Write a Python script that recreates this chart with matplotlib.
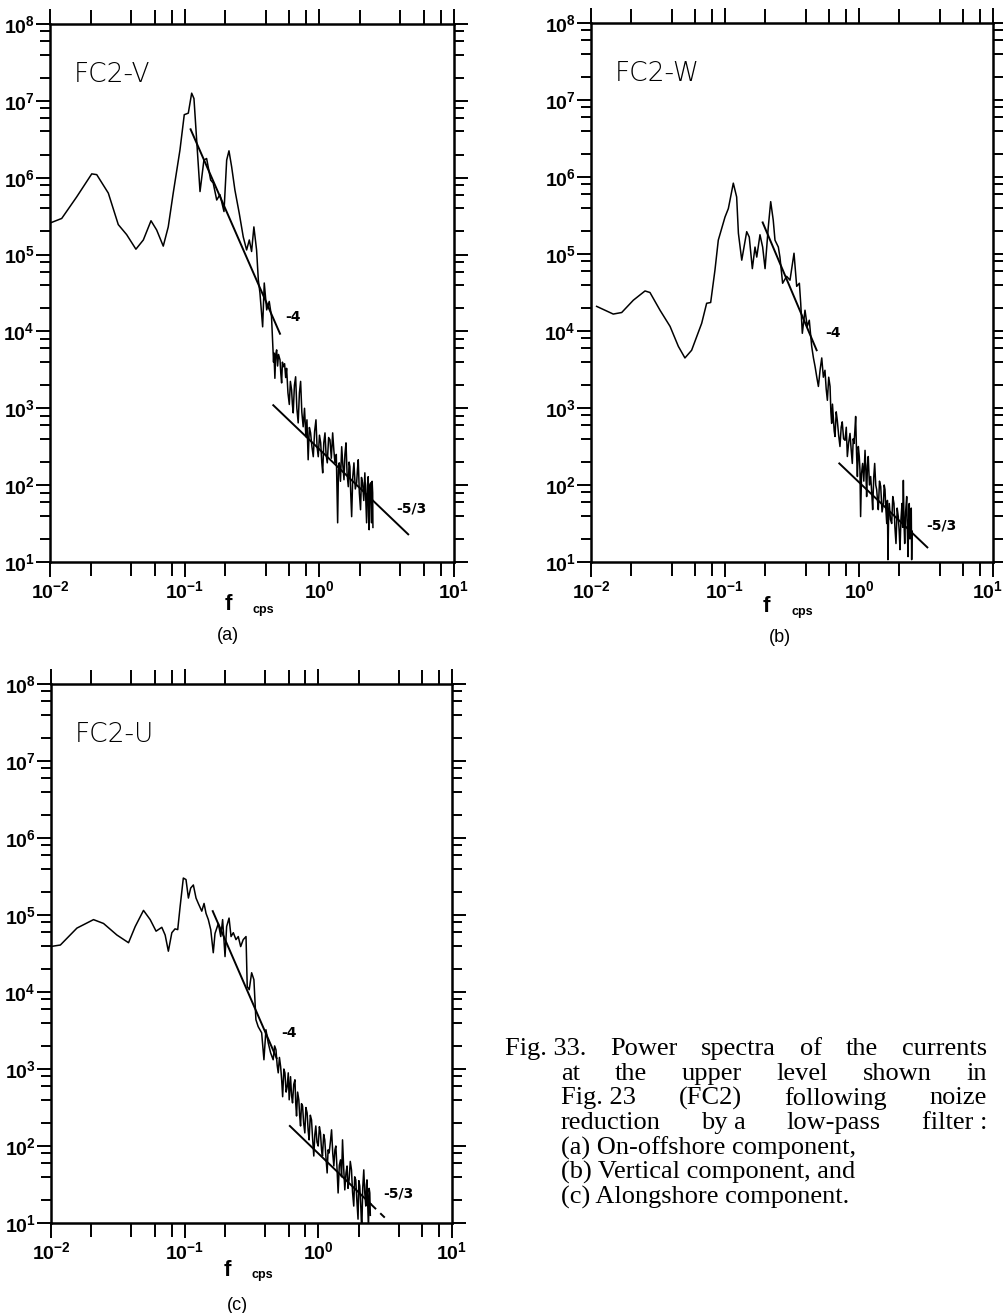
import numpy as np
import matplotlib
matplotlib.use("Agg")
import matplotlib.pyplot as plt
from matplotlib.ticker import LogLocator, FuncFormatter, NullFormatter

plt.rcParams['mathtext.fontset'] = 'custom'
plt.rcParams['mathtext.bf'] = 'Liberation Sans:bold'
plt.rcParams['mathtext.rm'] = 'Liberation Sans'
plt.rcParams['mathtext.it'] = 'Liberation Sans:italic'

# spectra: (log10 f [cps], log10 power)
spec_a = [(-2.0, 5.41), (-1.913, 5.47), (-1.802, 5.75), (-1.69, 6.05), (-1.653, 6.04),
          (-1.567, 5.80), (-1.493, 5.39), (-1.431, 5.26), (-1.362, 5.07), (-1.307, 5.19),
          (-1.25, 5.44), (-1.208, 5.32), (-1.159, 5.11), (-1.122, 5.36), (-1.085, 5.80),
          (-1.035, 6.36), (-1.003, 6.82), (-0.973, 6.84), (-0.948, 7.10), (-0.931, 7.03),
          (-0.911, 6.49), (-0.886, 5.82), (-0.857, 6.23), (-0.837, 6.25), (-0.807, 5.97),
          (-0.788, 5.93), (-0.762, 5.71), (-0.738, 5.78), (-0.708, 5.56), (-0.688, 6.23),
          (-0.671, 6.35), (-0.651, 6.14), (-0.627, 5.84), (-0.595, 5.54), (-0.565, 5.23),
          (-0.54, 5.06), (-0.52, 5.19), (-0.503, 5.04), (-0.486, 5.36), (-0.466, 5.06),
          (-0.453, 4.67), (-0.441, 4.50), (-0.421, 4.06), (-0.409, 4.63), (-0.391, 4.28),
          (-0.372, 4.39), (-0.355, 4.19), (-0.347, 3.89), (-0.340, 3.60), (-0.337, 3.72),
          (-0.330, 3.39), (-0.324, 3.70), (-0.317, 3.76), (-0.310, 3.55), (-0.303, 3.70),
          (-0.292, 3.63), (-0.286, 3.45), (-0.280, 3.33), (-0.274, 3.60), (-0.268, 3.54),
          (-0.258, 3.58), (-0.250, 3.40), (-0.243, 3.52), (-0.233, 3.20), (-0.223, 3.05),
          (-0.215, 3.35), (-0.206, 3.24), (-0.200, 3.05), (-0.194, 2.94), (-0.185, 3.30),
          (-0.176, 3.41), (-0.167, 3.00), (-0.157, 2.81), (-0.148, 3.20), (-0.139, 3.35),
          (-0.130, 2.95), (-0.120, 2.76), (-0.110, 3.00), (-0.100, 2.63), (-0.092, 2.85),
          (-0.083, 2.33), (-0.074, 2.75), (-0.065, 2.68), (-0.055, 2.50), (-0.045, 2.37),
          (-0.035, 2.70), (-0.025, 2.85), (-0.017, 2.50), (-0.008, 2.37), (0.001, 2.65),
          (0.010, 2.55), (0.018, 2.30), (0.025, 2.16), (0.033, 2.55), (0.042, 2.68),
          (0.050, 2.40), (0.059, 2.29), (0.069, 2.62), (0.079, 2.59), (0.089, 2.35),
          (0.099, 2.68), (0.108, 2.45), (0.116, 2.29), (0.126, 2.40), (0.136, 1.51),
          (0.142, 2.20), (0.148, 2.29), (0.157, 2.05), (0.166, 2.50), (0.175, 2.25),
          (0.183, 2.07), (0.190, 2.40), (0.198, 2.55), (0.206, 2.15), (0.215, 1.98),
          (0.221, 2.30), (0.227, 2.24), (0.233, 1.90), (0.240, 1.59), (0.248, 2.10),
          (0.257, 2.29), (0.267, 1.95), (0.277, 2.03), (0.283, 2.20), (0.289, 2.33),
          (0.297, 1.90), (0.306, 1.68), (0.313, 2.10), (0.321, 2.03), (0.330, 1.80),
          (0.338, 2.16), (0.344, 1.85), (0.351, 1.51), (0.357, 2.00), (0.363, 2.11),
          (0.366, 1.60), (0.370, 1.42), (0.375, 2.00), (0.381, 2.03), (0.385, 1.70),
          (0.388, 1.51), (0.392, 2.05), (0.396, 1.90), (0.398, 1.45)]

spec_b = [(-1.958, 4.32), (-1.834, 4.22), (-1.771, 4.24), (-1.684, 4.40), (-1.597, 4.52),
          (-1.56, 4.50), (-1.485, 4.27), (-1.41, 4.06), (-1.348, 3.80), (-1.299, 3.65),
          (-1.249, 3.75), (-1.174, 4.10), (-1.137, 4.36), (-1.107, 4.37), (-1.075, 4.79),
          (-1.05, 5.18), (-1.0, 5.48), (-0.975, 5.59), (-0.938, 5.92), (-0.913, 5.74),
          (-0.90, 5.27), (-0.875, 4.92), (-0.838, 5.29), (-0.819, 5.22), (-0.796, 4.81),
          (-0.776, 5.09), (-0.763, 4.96), (-0.739, 5.25), (-0.719, 5.09), (-0.701, 4.81),
          (-0.677, 5.35), (-0.659, 5.68), (-0.64, 5.44), (-0.627, 5.18), (-0.602, 5.09),
          (-0.59, 4.96), (-0.57, 4.62), (-0.54, 4.71), (-0.515, 4.66), (-0.485, 5.01),
          (-0.465, 4.58), (-0.445, 4.62), (-0.435, 4.36), (-0.423, 3.97), (-0.403, 4.27),
          (-0.386, 4.06), (-0.371, 4.14), (-0.353, 3.80), (-0.340, 3.65), (-0.328, 3.54),
          (-0.315, 3.40), (-0.303, 3.28), (-0.290, 3.50), (-0.278, 3.65), (-0.266, 3.40),
          (-0.254, 3.49), (-0.245, 3.25), (-0.236, 3.10), (-0.226, 3.40), (-0.216, 3.28),
          (-0.210, 2.95), (-0.204, 2.80), (-0.198, 3.05), (-0.192, 2.89), (-0.185, 2.70),
          (-0.179, 2.63), (-0.170, 2.95), (-0.162, 2.84), (-0.152, 2.65), (-0.142, 2.50),
          (-0.133, 2.75), (-0.125, 2.82), (-0.115, 2.60), (-0.104, 2.58), (-0.095, 2.75),
          (-0.087, 2.37), (-0.077, 2.55), (-0.067, 2.67), (-0.058, 2.45), (-0.05, 2.28),
          (-0.043, 2.60), (-0.037, 2.54), (-0.031, 2.70), (-0.025, 2.89), (-0.018, 2.40),
          (-0.012, 2.11), (-0.005, 2.50), (0.002, 2.37), (0.007, 2.20), (0.012, 1.59),
          (0.019, 2.15), (0.027, 2.28), (0.036, 2.05), (0.045, 2.45), (0.051, 2.20),
          (0.057, 1.85), (0.063, 2.25), (0.069, 2.37), (0.078, 2.00), (0.087, 2.11),
          (0.095, 1.90), (0.102, 1.68), (0.110, 2.10), (0.117, 2.28), (0.125, 2.00),
          (0.132, 1.94), (0.138, 1.80), (0.144, 1.68), (0.153, 2.05), (0.162, 1.98),
          (0.172, 1.65), (0.182, 1.76), (0.188, 2.00), (0.194, 1.94), (0.200, 1.70),
          (0.207, 1.50), (0.212, 1.80), (0.216, 1.03), (0.221, 1.60), (0.226, 1.76),
          (0.235, 1.55), (0.244, 1.50), (0.252, 1.85), (0.261, 1.76), (0.268, 1.45),
          (0.276, 1.24), (0.285, 1.70), (0.293, 1.59), (0.300, 1.40), (0.306, 1.16),
          (0.313, 1.55), (0.321, 1.76), (0.326, 1.45), (0.331, 2.06), (0.336, 1.50),
          (0.341, 1.24), (0.348, 1.65), (0.356, 1.85), (0.361, 1.40), (0.366, 1.07),
          (0.370, 1.50), (0.375, 1.76), (0.380, 1.30), (0.386, 1.50), (0.390, 1.70),
          (0.393, 1.03), (0.396, 1.40)]

spec_c = [(-2.005, 4.59), (-1.93, 4.61), (-1.806, 4.83), (-1.682, 4.94), (-1.607, 4.89),
          (-1.507, 4.74), (-1.42, 4.64), (-1.37, 4.85), (-1.308, 5.06), (-1.258, 4.94),
          (-1.214, 4.79), (-1.171, 4.84), (-1.146, 4.74), (-1.122, 4.53), (-1.096, 4.77),
          (-1.072, 4.82), (-1.052, 4.81), (-1.034, 5.11), (-1.01, 5.48), (-0.99, 5.46),
          (-0.972, 5.22), (-0.955, 5.35), (-0.935, 5.39), (-0.915, 5.22), (-0.898, 5.15),
          (-0.872, 5.05), (-0.855, 5.15), (-0.84, 5.02), (-0.823, 4.94), (-0.805, 4.81),
          (-0.786, 4.51), (-0.773, 4.76), (-0.748, 4.89), (-0.73, 4.72), (-0.716, 4.94),
          (-0.698, 4.46), (-0.686, 4.85), (-0.668, 4.96), (-0.653, 4.72), (-0.636, 4.77),
          (-0.616, 4.68), (-0.599, 4.72), (-0.581, 4.59), (-0.562, 4.68), (-0.541, 4.72),
          (-0.532, 4.07), (-0.517, 4.03), (-0.499, 4.25), (-0.482, 4.16), (-0.467, 3.64),
          (-0.45, 3.55), (-0.424, 3.47), (-0.407, 3.12), (-0.392, 3.51), (-0.375, 3.34),
          (-0.357, 3.21), (-0.338, 3.12), (-0.327, 3.30), (-0.317, 3.25), (-0.308, 3.05),
          (-0.30, 2.95), (-0.291, 3.15), (-0.282, 3.03), (-0.274, 2.85), (-0.267, 2.64),
          (-0.258, 3.00), (-0.25, 2.95), (-0.241, 2.70), (-0.233, 2.77), (-0.225, 2.95),
          (-0.218, 2.60), (-0.213, 2.75), (-0.208, 2.90), (-0.200, 2.65), (-0.193, 2.56),
          (-0.184, 2.80), (-0.175, 2.86), (-0.169, 2.55), (-0.163, 2.39), (-0.155, 2.70),
          (-0.146, 2.60), (-0.140, 2.40), (-0.133, 2.26), (-0.126, 2.55), (-0.118, 2.52),
          (-0.110, 2.30), (-0.101, 2.17), (-0.093, 2.50), (-0.084, 2.43), (-0.076, 2.20),
          (-0.069, 2.08), (-0.060, 2.40), (-0.051, 2.34), (-0.043, 2.10), (-0.034, 1.87),
          (-0.026, 2.15), (-0.019, 2.26), (-0.010, 2.05), (-0.001, 2.00), (0.008, 2.25),
          (0.016, 2.17), (0.024, 1.95), (0.031, 1.87), (0.040, 2.15), (0.048, 2.08),
          (0.057, 1.85), (0.066, 1.65), (0.073, 1.95), (0.081, 1.91), (0.090, 2.05),
          (0.099, 2.21), (0.108, 1.90), (0.116, 1.74), (0.124, 1.95), (0.131, 2.00),
          (0.140, 1.70), (0.148, 1.39), (0.157, 1.75), (0.166, 1.82), (0.174, 1.60),
          (0.181, 2.08), (0.190, 1.70), (0.198, 1.43), (0.207, 1.65), (0.215, 1.74),
          (0.222, 1.45), (0.23, 1.56), (0.239, 1.80), (0.248, 1.69), (0.256, 1.40),
          (0.265, 1.22), (0.272, 1.60), (0.28, 1.56), (0.288, 1.30), (0.297, 1.05),
          (0.303, 1.55), (0.31, 1.48), (0.318, 1.20), (0.325, 0.88), (0.332, 1.45),
          (0.34, 1.69), (0.347, 1.40), (0.355, 1.22), (0.360, 1.50), (0.364, 1.56),
          (0.370, 1.20), (0.375, 0.92), (0.380, 1.45), (0.385, 1.39), (0.389, 1.10)]

# fitted slope lines (-4 and -5/3), end points in (log10 f, log10 power)
fit4_a = [(-0.956, 6.63), (-0.292, 3.97)]
fit53_a = [(-0.342, 3.04), (0.66, 1.36)]
fit4_b = [(-0.719, 5.41), (-0.316, 3.75)]
fit53_b = [(-0.147, 2.28), (0.51, 1.19)]
fit4_c = [(-0.79, 5.05), (-0.312, 3.14)]
fit53_c = [(-0.213, 2.26), (0.39, 1.25)]
fit53_c_tail = [(0.39, 1.25), (0.497, 1.07)]

names = ['FC2-V', 'FC2-W', 'FC2-U']
panel_tags = ['(a)', '(b)', '(c)']

W, H = 1004, 1313
fig = plt.figure(figsize=(W / 100, H / 100), dpi=100)


def px(x, y):
    return x / W, 1 - y / H


def axes_px(l, t, r, b):
    return fig.add_axes([l / W, 1 - b / H, (r - l) / W, (b - t) / H])


def lg(pts):
    a = np.array(pts, dtype=float)
    return 10 ** a[:, 0], 10 ** a[:, 1]


def fmt(v, pos):
    e = int(round(np.log10(v)))
    return r'$\mathbf{10^{%d}}$' % e


def fmt_no_last(v, pos):
    if v > 5:
        return ''
    return fmt(v, pos)


def setup(ax):
    ax.set_xscale('log')
    ax.set_yscale('log')
    ax.set_xlim(1e-2, 1e1)
    ax.set_ylim(1e1, 1e8)
    for axis in (ax.xaxis, ax.yaxis):
        axis.set_major_locator(LogLocator(base=10, subs=(1.0,), numticks=20))
        axis.set_minor_locator(LogLocator(base=10, subs=(2, 4, 6, 8), numticks=20))
        axis.set_major_formatter(FuncFormatter(fmt))
        axis.set_minor_formatter(NullFormatter())
    ax.tick_params(which='both', direction='out', top=True, right=True,
                   labeltop=False, labelright=False, width=1.4, colors='black')
    ax.tick_params(axis='x', which='major', length=11, labelsize=14, pad=2)
    ax.tick_params(axis='x', which='minor', length=10)
    ax.tick_params(axis='y', which='major', length=10, labelsize=14, pad=1)
    ax.tick_params(axis='y', which='minor', length=7)
    for s in ax.spines.values():
        s.set_linewidth(1.8)


boxes = [(50, 24, 454, 562), (591, 23, 993, 562), (51, 684, 452, 1223)]
specs = [spec_a, spec_b, spec_c]
fits = [[fit4_a, fit53_a], [fit4_b, fit53_b], [fit4_c, fit53_c]]
lab4 = [(-0.255, 4.19), (-0.254, 3.98), (-0.275, 3.47)]
lab53 = [(0.569, 1.70), (0.505, 1.48), (0.484, 1.38)]

axes = []
for i in range(3):
    ax = axes_px(*boxes[i])
    setup(ax)
    f, s = lg(specs[i])
    ax.plot(f, s, color='black', lw=1.1)
    for fl in fits[i]:
        ff, ss = lg(fl)
        ax.plot(ff, ss, color='black', lw=1.4)
    if i == 2:
        ff, ss = lg(fit53_c_tail)
        ax.plot(ff, ss, color='black', lw=1.4, ls=(0, (4, 3)))
    ax.text(10 ** lab4[i][0], 10 ** lab4[i][1], '-4', fontsize=10,
            fontweight='bold', va='center', ha='left')
    ax.text(10 ** lab53[i][0], 10 ** lab53[i][1], '-5/3', fontsize=10,
            fontweight='bold', va='center', ha='left')
    ax.text(0.058, 0.907, names[i], transform=ax.transAxes, fontsize=19,
            fontweight='light', va='center', ha='left')
    axes.append(ax)

# panel (b): last x label sits on the page edge, keep it inside
axes[1].xaxis.set_major_formatter(FuncFormatter(fmt_no_last))
fig.text(*px(1003, 591), r'$\mathbf{10^{1}}$', fontsize=14, ha='right', va='center')

# axis labels and panel tags
lab_pos = [(228, 605, 263, 228, 636), (766, 607, 802, 780, 637), (227, 1270, 262, 237, 1305)]
for i, (fxp, fyp, cx, tx, ty) in enumerate(lab_pos):
    fig.text(*px(fxp, fyp), 'f', fontsize=16, fontweight='bold',
             family='Liberation Sans', ha='center', va='center')
    fig.text(*px(cx, fyp + 5), 'cps', fontsize=9, fontweight='bold',
             family='Liberation Sans', ha='center', va='center')
    fig.text(*px(tx, ty), panel_tags[i], fontsize=13,
             family='Liberation Sans', ha='center', va='center')

# caption, first four lines justified like the printed page ('|' = stretchable gap)
cap_lines = ["Fig. 33.|Power|spectra|of|the|currents",
             "at|the|upper|level|shown|in",
             "Fig. 23|(FC2)|following|noize",
             "reduction|by a|low-pass|filter :",
             "(a) On-offshore component,",
             "(b) Vertical component, and",
             "(c) Alongshore component."]
renderer = fig.canvas.get_renderer()
cap_kw = dict(fontsize=19, family='Liberation Serif', ha='left', va='center')
for k, line in enumerate(cap_lines):
    x0 = 505 if k == 0 else 561
    y = 1049 + 24.7 * k
    if k < 4:
        words = line.split('|')
        ts = [fig.text(0, 0, w, **cap_kw) for w in words]
        widths = [t.get_window_extent(renderer).width for t in ts]
        gap = (987 - x0 - sum(widths)) / (len(words) - 1)
        x = x0
        for t, w in zip(ts, widths):
            t.set_position(px(x, y))
            x += w + gap
    else:
        fig.text(*px(x0, y), line, **cap_kw)

fig.savefig('out.png', dpi=100)
